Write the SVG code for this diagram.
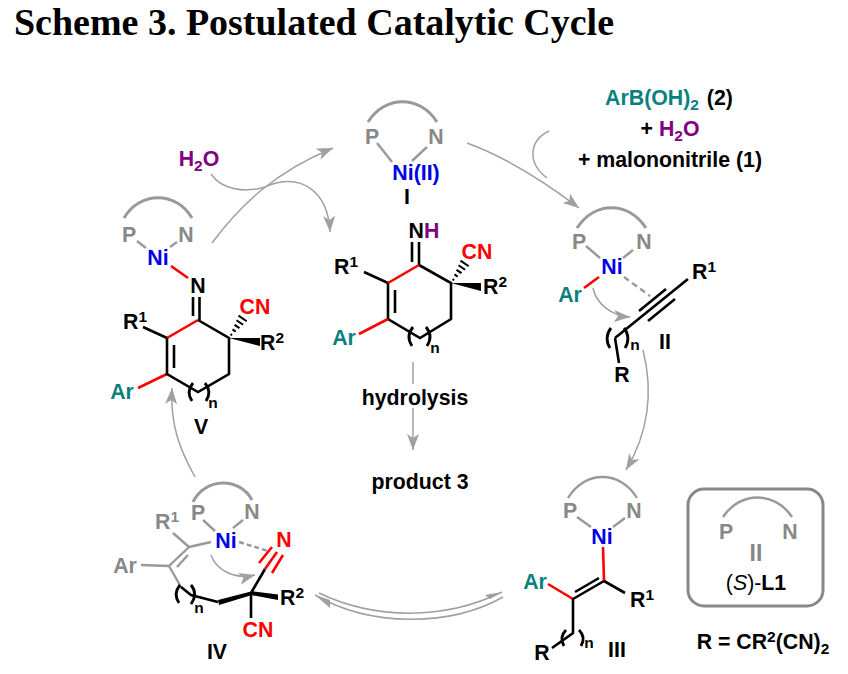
<svg xmlns="http://www.w3.org/2000/svg" width="848" height="674" viewBox="0 0 848 674">
<style>
text{font-family:"Liberation Sans",Arial,sans-serif;font-weight:700;font-size:21.3px;text-anchor:middle;fill:#000}
.title{font-family:"Liberation Serif","Times New Roman",serif;font-size:37px;text-anchor:start}
.g{fill:#888}.b{fill:#0000e6}.r{fill:#f00}.t{fill:#0a8080}.p{fill:#800080}
.sm{font-size:15.5px}
.k,.kr,.kg,.arc,.ar{fill:none;stroke-linecap:butt}
.k{stroke:#000;stroke-width:2.6}
.kr{stroke:#f00;stroke-width:2.6}
.kg{stroke:#999;stroke-width:2.4}
.pa{fill:none;stroke:#000;stroke-width:2.8}
.arc{stroke:#999;stroke-width:3}
.ar{stroke:#a0a0a0;stroke-width:1.5}
.he{marker-end:url(#ah)}
</style>
<defs>
<marker id="ah" markerUnits="userSpaceOnUse" markerWidth="18" markerHeight="14" refX="16" refY="6.5" orient="auto"><path d="M0 0.5L16 6.5L0 12.5L4 6.5Z" fill="#a0a0a0"/></marker>
<path id="hash" fill="none" stroke="#000" stroke-width="2" d="M1.5 -3.9L3.1 -2.7M3.5 -8.6L6.7 -6.4M5.5 -13.2L10.5 -9.8M7.5 -17.8L14.1 -13.2M9.5 -22.4L17.7 -16.7"/>
</defs>
<rect width="848" height="674" fill="#fff"/>
<text class="title" x="14" y="35" textLength="600" lengthAdjust="spacingAndGlyphs">Scheme 3. Postulated Catalytic Cycle</text>

<g id="connectors">
<path class="ar he" d="M212 243C240 205 275 172 333 148"/>
<path class="ar he" d="M211 174C222 190 245 193 265 187C300 172 328 190 330 232"/>
<path class="ar he" d="M467 143C505 157 545 182 579 208"/>
<path class="ar" d="M549 131C530 140 526 162 547 178"/>
<path class="ar he" d="M643 350C653 390 650 430 626 470"/>
<path class="ar he" d="M195 477C180 450 170 425 172 388"/>
<path class="ar" d="M413 362V384"/>
<path class="ar he" d="M413 408V450"/>
<path class="ar he" d="M593 288C596 304 612 316 630 317"/>
<path class="ar he" d="M211 555C216 570 235 580 255 575"/>
<path class="ar" d="M319 593C375 620 445 620 502 592"/>
<path class="ar" d="M315 595C370 627 450 627 503 597"/>
<path d="M502 592L485 595L490 599Z" fill="#a0a0a0"/>
<path d="M315 595L330 600L330 608Z" fill="#a0a0a0"/>
</g>

<g id="reagents">
<text x="669" y="105"><tspan class="t">ArB(OH)</tspan><tspan class="t sm" dy="5">2</tspan><tspan dy="-5" dx="2"> (2)</tspan></text>
<text x="670" y="136">+ <tspan class="p">H</tspan><tspan class="p sm" dy="5">2</tspan><tspan class="p" dy="-5">O</tspan></text>
<text x="670" y="167">+ malononitrile (1)</text>
<text x="199" y="166"><tspan class="p">H</tspan><tspan class="p sm" dy="5">2</tspan><tspan class="p" dy="-5">O</tspan></text>
<text x="415" y="405">hydrolysis</text>
<text x="420" y="489">product 3</text>
</g>

<g id="node-I">
<path class="arc" d="M368 122C385 95 420 95 437 122"/>
<path class="kg" d="M377 143L392 162M427 147L412 161"/>
<text class="g" x="372" y="144">P</text><text class="g" x="436" y="144">N</text>
<text class="b" x="416" y="180">Ni(II)</text>
<text x="407" y="204">I</text>
</g>

<g id="node-imine">
<path class="k" d="M412 242V262M419 242V265M419 265L451 283V319L420 338L388 319V283M395 290V313M364 272L388 283"/>
<path class="kr" d="M388 283L419 265M359 334L388 319"/>
<path class="pa" d="M413 327C408 333 408 340 412 346M426 327C431 333 431 340 427 346"/>
<path d="M451 283L481 283L481 291Z"/>
<use href="#hash" x="451" y="283"/>
<text x="424" y="238">N<tspan class="p">H</tspan></text>
<text x="346" y="274">R<tspan class="sm" dy="-7">1</tspan></text>
<text class="t" x="344" y="345">Ar</text>
<text class="r" x="477" y="259">CN</text>
<text x="495" y="294">R<tspan class="sm" dy="-7">2</tspan></text>
<text class="sm" x="435" y="353">n</text>
</g>

<g id="node-II">
<path class="arc" d="M577 228C595 201 628 201 646 228"/>
<path class="kg" d="M586 246L600 258M633 250L623 258"/>
<path class="kg" d="M624 277L650 296" stroke-dasharray="6 4"/>
<path class="kr" d="M599 277L584 288"/>
<path class="k" d="M688 279L615 338M666 289L639 311M675 299L648 321M615 338L619 363"/>
<path class="pa" d="M611 328C606 334 606 342 610 348M624 328C629 334 629 342 625 348"/>
<text class="g" x="579" y="249">P</text><text class="g" x="644" y="249">N</text>
<text class="b" x="612" y="274">Ni</text>
<text class="t" x="570" y="302">Ar</text>
<text x="704" y="279">R<tspan class="sm" dy="-7">1</tspan></text>
<text x="622" y="382">R</text>
<text class="sm" x="635" y="350">n</text>
<text x="665" y="349">II</text>
</g>

<g id="node-III">
<path class="arc" d="M568 498C585 470 620 470 637 498" style="stroke-width:2.4"/>
<path class="kg" d="M577 517L591 527M625 518L613 527"/>
<path class="kr" d="M603 547L604 581M548 584L573 599"/>
<path class="k" d="M604 581L573 599M599 578L575 592M604 581L625 593M573 599V633L552 648"/>
<path class="pa" d="M566 630C561 635 561 641 564 646M579 630C584 635 584 641 581 646"/>
<text class="g" x="570" y="518">P</text><text class="g" x="634" y="518">N</text>
<text class="b" x="602" y="544">Ni</text>
<text class="t" x="535" y="589">Ar</text>
<text x="642" y="607">R<tspan class="sm" dy="-7">1</tspan></text>
<text x="542" y="660">R</text>
<text class="sm" x="589" y="648">n</text>
<text x="617" y="657">III</text>
</g>

<g id="node-IV">
<path class="arc" d="M193 502C205 477 240 477 252 500"/>
<path class="kg" d="M203 520L215 531M243 520L233 528M211 542L189 547M173 533L189 547M189 547L169 566M188 555L177 567M141 565L169 566M169 566L181 587"/>
<path class="kg" d="M239 542L268 551" stroke-dasharray="5 3"/>
<path class="k" d="M181 587L191 595L218 602M251 593L265 569M251 593V618"/>
<path d="M218 600L251 591.5L252 595L219 605ZM251 591L278 594.5V600L251 595Z"/>
<path class="kr" d="M259 563L272 547M265 569L277 552M272 573L283 555"/>
<path class="pa" d="M180 585C175 591 175 597 179 603M191 585C196 591 196 597 191 604"/>
<text class="g" x="198" y="520">P</text><text class="g" x="252" y="519">N</text>
<text class="b" x="226" y="548">Ni</text>
<text class="r" x="284" y="547">N</text>
<text class="g" x="167" y="529">R<tspan class="sm" dy="-7">1</tspan></text>
<text class="g" x="125" y="573">Ar</text>
<text x="292" y="605">R<tspan class="sm" dy="-7">2</tspan></text>
<text class="r" x="258" y="637">CN</text>
<text class="sm" x="199" y="613">n</text>
<text x="217" y="659">IV</text>
</g>

<g id="node-V">
<path class="arc" d="M124 218C140 191 176 191 192 218"/>
<path class="kg" d="M137 241L146 248M177 242L170 247"/>
<path class="kr" d="M171 266L188 278M198 320L167 338M138 388L167 374"/>
<path class="k" d="M193 297V316M199.5 297V320M198 320L229 338V374L198 392L167 374V338M174 345V368M143 327L167 338"/>
<path class="pa" d="M193 383C188 389 188 395 192 401M205 383C210 389 210 395 206 401"/>
<path d="M229 338L260 338L260 346Z"/>
<use href="#hash" x="229" y="338"/>
<text class="g" x="129" y="242">P</text><text class="g" x="186" y="242">N</text>
<text class="b" x="158" y="265">Ni</text>
<text x="198" y="293">N</text>
<text x="135" y="329">R<tspan class="sm" dy="-7">1</tspan></text>
<text class="t" x="122" y="399">Ar</text>
<text class="r" x="255" y="314">CN</text>
<text x="272" y="350">R<tspan class="sm" dy="-7">2</tspan></text>
<text class="sm" x="213" y="408">n</text>
<text x="201" y="434">V</text>
</g>

<g id="node-L1">
<rect x="688" y="489" width="135" height="117" rx="16" fill="none" stroke="#888" stroke-width="3"/>
<path class="arc" d="M723 517C740 491 775 491 792 517" style="stroke-width:2.4"/>
<text class="g" x="726" y="539">P</text><text class="g" x="790" y="539">N</text>
<text class="g" x="756" y="561" style="font-size:23px">II</text>
<text x="756" y="590"><tspan style="font-weight:400">(</tspan><tspan style="font-weight:400;font-style:italic">S</tspan><tspan style="font-weight:400">)-</tspan>L1</text>
<text x="763" y="649">R = CR<tspan class="sm" dy="-7">2</tspan><tspan dy="7">(CN)</tspan><tspan class="sm" dy="5">2</tspan></text>
</g>
</svg>
